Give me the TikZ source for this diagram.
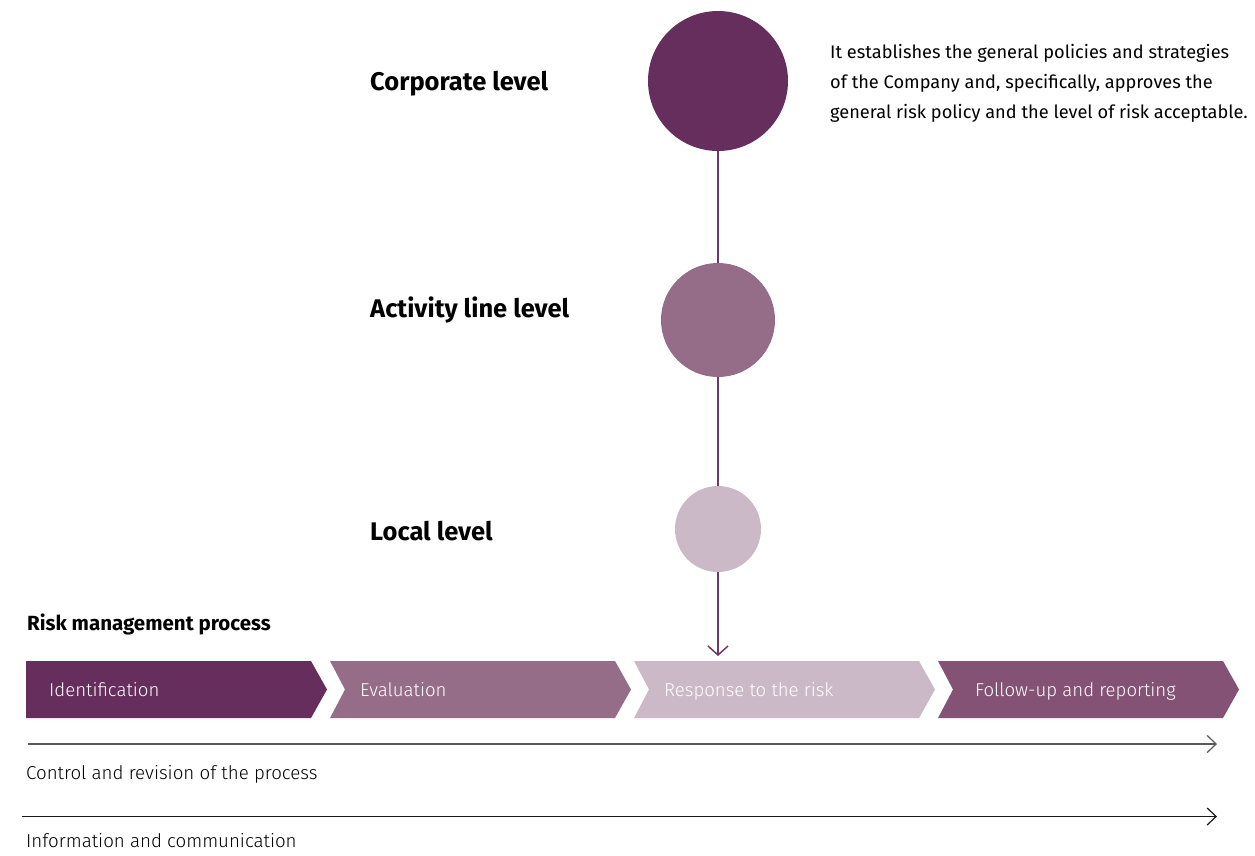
\documentclass[tikz,border=0pt]{standalone}
\usepackage{fontspec}
\setmainfont{Fira Sans}
\newfontfamily\lightfont{Fira Sans Light}
\usetikzlibrary{arrows.meta}
\definecolor{cA}{HTML}{662E5C}
\definecolor{cB}{HTML}{966D88}
\definecolor{cC}{HTML}{CBB9C8}
\definecolor{cD}{HTML}{835274}
\definecolor{lineplum}{HTML}{6B3A62}
\tikzset{
  lvl/.style={circle, inner sep=0pt, outer sep=0pt},
  lvllabel/.style={anchor=base west, inner sep=0pt, font=\fontsize{25.5}{30}\selectfont\bfseries},
  stemline/.style={draw=lineplum, line width=1.5pt},
  steplabel/.style={anchor=base west, inner sep=0pt, text=white, font=\lightfont\fontsize{18.6}{22}\selectfont},
  bottomlabel/.style={anchor=base west, inner sep=0pt, font=\lightfont\fontsize{18.7}{22}\selectfont},
  timeline/.style={line width=1.2pt, -{Straight Barb[length=9pt,width=17pt,line width=1.2pt]}},
}
\begin{document}
\begin{tikzpicture}[x=1pt,y=-1pt]
\useasboundingbox (0,0) rectangle (1255,855);
% circles
\node[lvl, fill=cA, minimum size=140pt] (c1) at (718,81) {};
\node[lvl, fill=cB, minimum size=114pt] (c2) at (718,320) {};
\node[lvl, fill=cC, minimum size=86pt] (c3) at (718,529) {};
\coordinate (stemend) at (718,656);
\draw[stemline] (c1.south) -- (c2.north);
\draw[stemline] (c2.south) -- (c3.north);
\draw[stemline, -{Straight Barb[length=9pt,width=20pt,line width=1.5pt]}] (c3.south) -- (stemend);
% level labels
\node[lvllabel] (l1) at (370,90.5) {Corporate level};
\node[lvllabel] (l2) at (370,317.5) {Activity line level};
\node[lvllabel] (l3) at (370,540) {Local level};
% description
\node[anchor=north west, inner sep=0pt, align=left, font=\fontsize{18.2}{30}\selectfont] (desc) at (830,44)
 {It establishes the general policies and strategies\\
  of the Company and, specifically, approves the\\
  general risk policy and the level of risk acceptable.};
% process title
\node[anchor=base west, inner sep=0pt, font=\fontsize{20.5}{24}\selectfont\bfseries] (rmp) at (27,630) {Risk management process};
% chevrons
\foreach \x/\n/\col/\dx/\lab [count=\i] in {26/0/cA/23/Identification, 330/15/cB/30/Evaluation, 634/15/cC/30/Response to the risk, 938/15/cD/37/Follow-up and reporting}{
  \fill[\col] (\x,661) -- (\x+285,661) -- (\x+301,689.5) -- (\x+285,718) -- (\x,718) -- (\x+\n,689.5) -- cycle;
  \node[steplabel] (s\i) at (\x+\dx,696) {\lab};
}
% timelines
\coordinate (t1s) at (28,744);
\coordinate (t1e) at (1217,744);
\coordinate (t2s) at (22,816.5);
\coordinate (t2e) at (1217,816.5);
\draw[timeline, draw=black!65] (t1s) -- (t1e);
\draw[timeline, draw=black!90] (t2s) -- (t2e);
\node[bottomlabel] (b1) at (26,779) {Control and revision of the process};
\node[bottomlabel] (b2) at (26,847) {Information and communication};
\end{tikzpicture}
\end{document}
